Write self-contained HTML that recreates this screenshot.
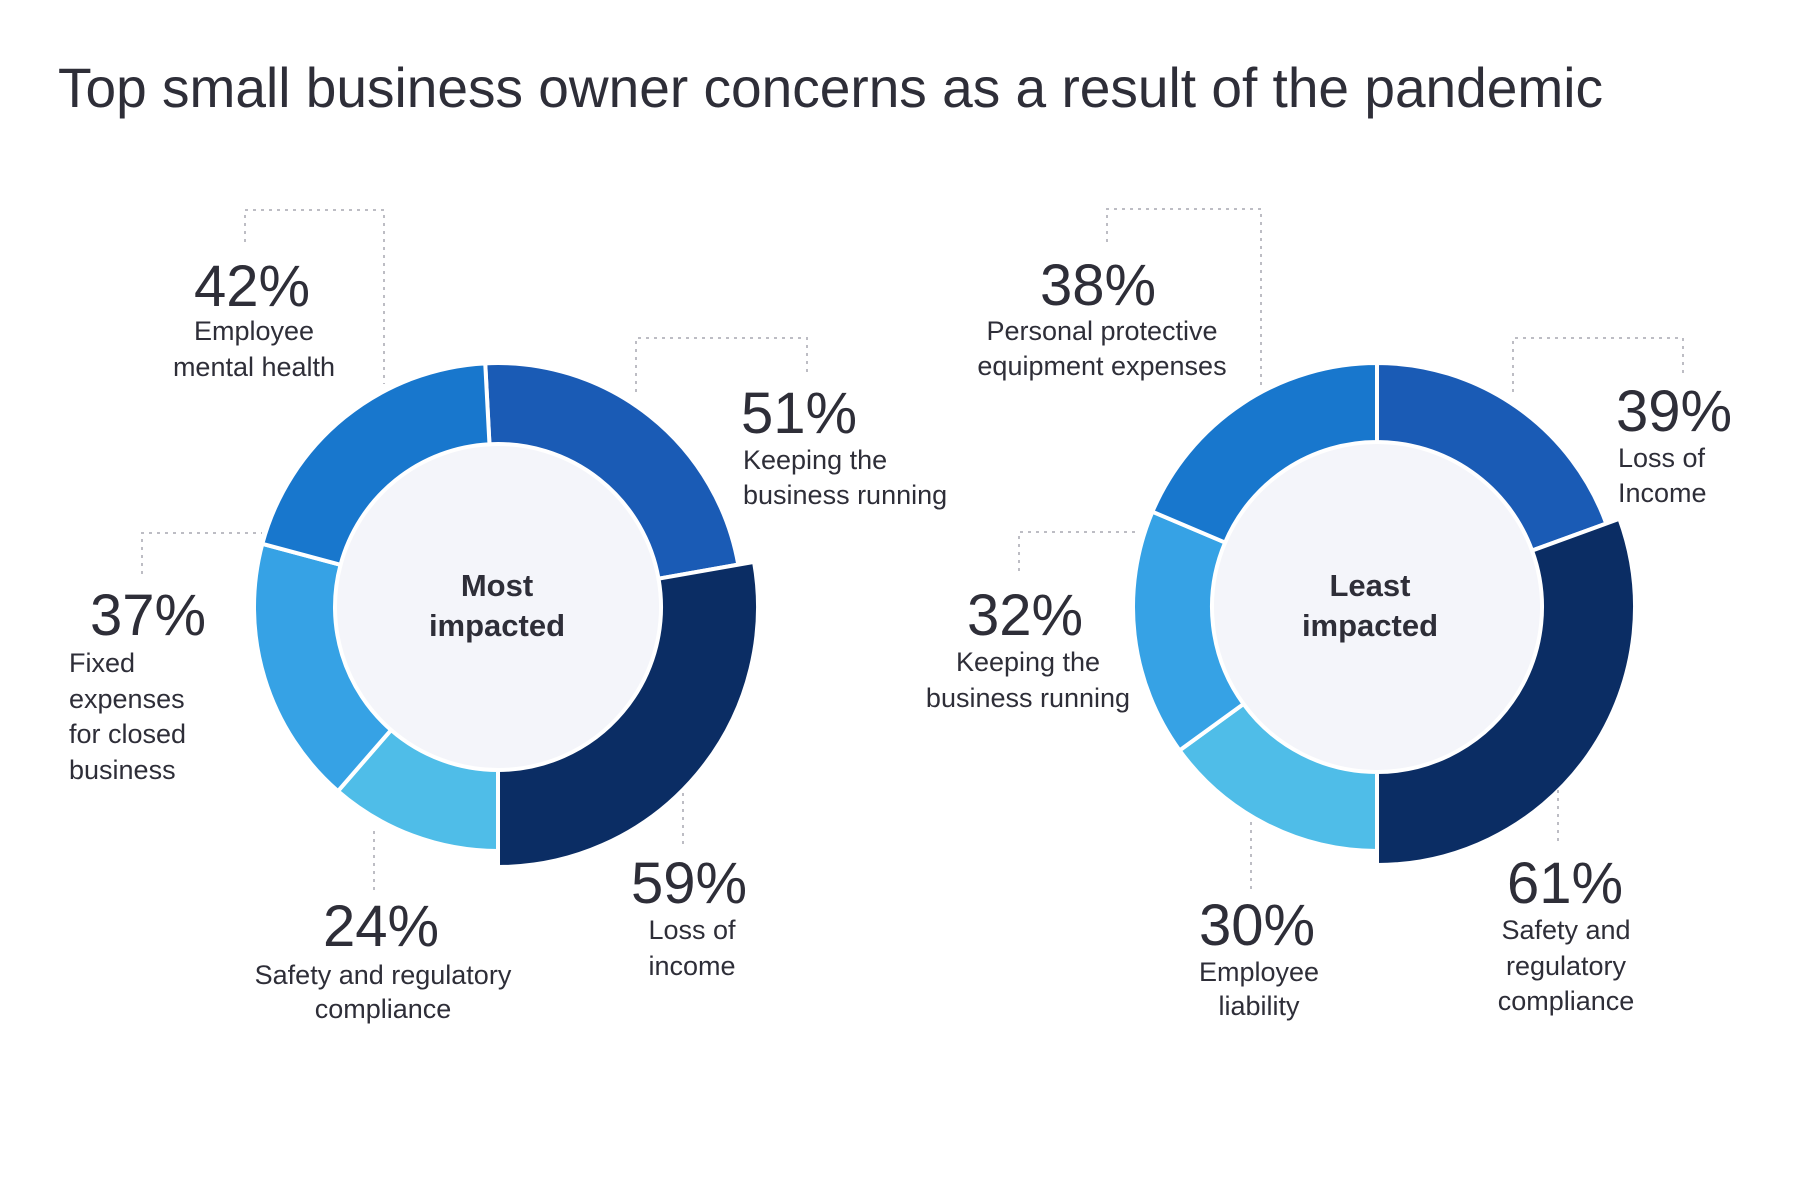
<!DOCTYPE html>
<html><head><meta charset="utf-8"><style>
html,body{margin:0;padding:0;background:#fff;}
svg{display:block;}
text{font-family:"Liberation Sans",sans-serif;fill:#2e2e38;}
.p{font-size:58px;}
.l{font-size:27px;}
.c{font-size:31px;font-weight:bold;}
.ld{fill:none;stroke:#bdbdc4;stroke-width:2;stroke-dasharray:3 5;}
</style></head><body>
<svg id="s" width="1800" height="1200" viewBox="0 0 1800 1200" xmlns="http://www.w3.org/2000/svg">
<text x="58" y="107" font-size="56" textLength="1545" lengthAdjust="spacingAndGlyphs">Top small business owner concerns as a result of the pandemic</text>
<g id="donuts"></g>
<polyline class="ld" points="245,242 245,210 384,210 384,384"/>
<polyline class="ld" points="636,392 636,338 807,338 807,376"/>
<polyline class="ld" points="142,574 142,533 262,533"/>
<polyline class="ld" points="374,831 374,894"/>
<polyline class="ld" points="683,793 683,845"/>
<polyline class="ld" points="1107,242 1107,209 1261,209 1261,387"/>
<polyline class="ld" points="1513,392 1513,338 1683,338 1683,375"/>
<polyline class="ld" points="1019,571 1019,532 1140,532"/>
<polyline class="ld" points="1251,822 1251,891"/>
<polyline class="ld" points="1558,790 1558,842"/>
<text class="p" x="252" y="306" text-anchor="middle">42%</text>
<text class="l" x="254" y="340" text-anchor="middle">Employee</text>
<text class="l" x="254" y="376" text-anchor="middle">mental health</text>
<text class="p" x="741" y="433">51%</text>
<text class="l" x="743" y="469">Keeping the</text>
<text class="l" x="743" y="504">business running</text>
<text class="p" x="90" y="635">37%</text>
<text class="l" x="69" y="672">Fixed</text>
<text class="l" x="69" y="708">expenses</text>
<text class="l" x="69" y="743">for closed</text>
<text class="l" x="69" y="779">business</text>
<text class="p" x="381" y="946" text-anchor="middle">24%</text>
<text class="l" x="383" y="984" text-anchor="middle">Safety and regulatory</text>
<text class="l" x="383" y="1018" text-anchor="middle">compliance</text>
<text class="p" x="689" y="903" text-anchor="middle">59%</text>
<text class="l" x="692" y="939" text-anchor="middle">Loss of</text>
<text class="l" x="692" y="975" text-anchor="middle">income</text>
<text class="c" x="497" y="596" text-anchor="middle">Most</text>
<text class="c" x="497" y="636" text-anchor="middle">impacted</text>
<text class="p" x="1098" y="305" text-anchor="middle">38%</text>
<text class="l" x="1102" y="340" text-anchor="middle">Personal protective</text>
<text class="l" x="1102" y="375" text-anchor="middle">equipment expenses</text>
<text class="p" x="1616" y="431">39%</text>
<text class="l" x="1618" y="467">Loss of</text>
<text class="l" x="1618" y="502">Income</text>
<text class="p" x="1025" y="635" text-anchor="middle">32%</text>
<text class="l" x="1028" y="671" text-anchor="middle">Keeping the</text>
<text class="l" x="1028" y="707" text-anchor="middle">business running</text>
<text class="p" x="1257" y="945" text-anchor="middle">30%</text>
<text class="l" x="1259" y="981" text-anchor="middle">Employee</text>
<text class="l" x="1259" y="1015" text-anchor="middle">liability</text>
<text class="p" x="1565" y="903" text-anchor="middle">61%</text>
<text class="l" x="1566" y="939" text-anchor="middle">Safety and</text>
<text class="l" x="1566" y="975" text-anchor="middle">regulatory</text>
<text class="l" x="1566" y="1010" text-anchor="middle">compliance</text>
<text class="c" x="1370" y="596" text-anchor="middle">Least</text>
<text class="c" x="1370" y="636" text-anchor="middle">impacted</text>
</svg>
<script>
(function(){
var g=document.getElementById('donuts'),NS='http://www.w3.org/2000/svg';
function pt(cx,cy,r,a){a=(a-90)*Math.PI/180;return [cx+r*Math.cos(a),cy+r*Math.sin(a)];}
function seg(cx,cy,ri,ro,a0,a1,col){
 var p1=pt(cx,cy,ro,a0),p2=pt(cx,cy,ro,a1),p3=pt(cx,cy,ri,a1),p4=pt(cx,cy,ri,a0),lg=(a1-a0)>180?1:0;
 var d='M'+p1+' A'+ro+' '+ro+' 0 '+lg+' 1 '+p2+' L'+p3+' A'+ri+' '+ri+' 0 '+lg+' 0 '+p4+'Z';
 var e=document.createElementNS(NS,'path');e.setAttribute('d',d);e.setAttribute('fill',col);
 e.setAttribute('stroke','#fff');e.setAttribute('stroke-width','4');g.appendChild(e);}
function donut(cx,cy,ri,ro,big,s){
 var c=document.createElementNS(NS,'circle');c.setAttribute('cx',cx);c.setAttribute('cy',cy);c.setAttribute('r',ri);c.setAttribute('fill','#f4f5fa');g.appendChild(c);
 s.forEach(function(q){seg(cx,cy,ri,q[3]?big:ro,q[0],q[1],q[2]);});}
donut(498,607,163,244,260,[[-3,80,'#1a5bb5'],[80,180,'#0b2d64',1],[180,221,'#4fbde8'],[221,285,'#36a2e5'],[285,357,'#1877cd']]);
donut(1377,607,165,244,258,[[0,70,'#1a5bb5'],[70,180,'#0b2d64',1],[180,234,'#4fbde8'],[234,293,'#36a2e5'],[293,360,'#1877cd']]);
})();
</script>
</body></html>
